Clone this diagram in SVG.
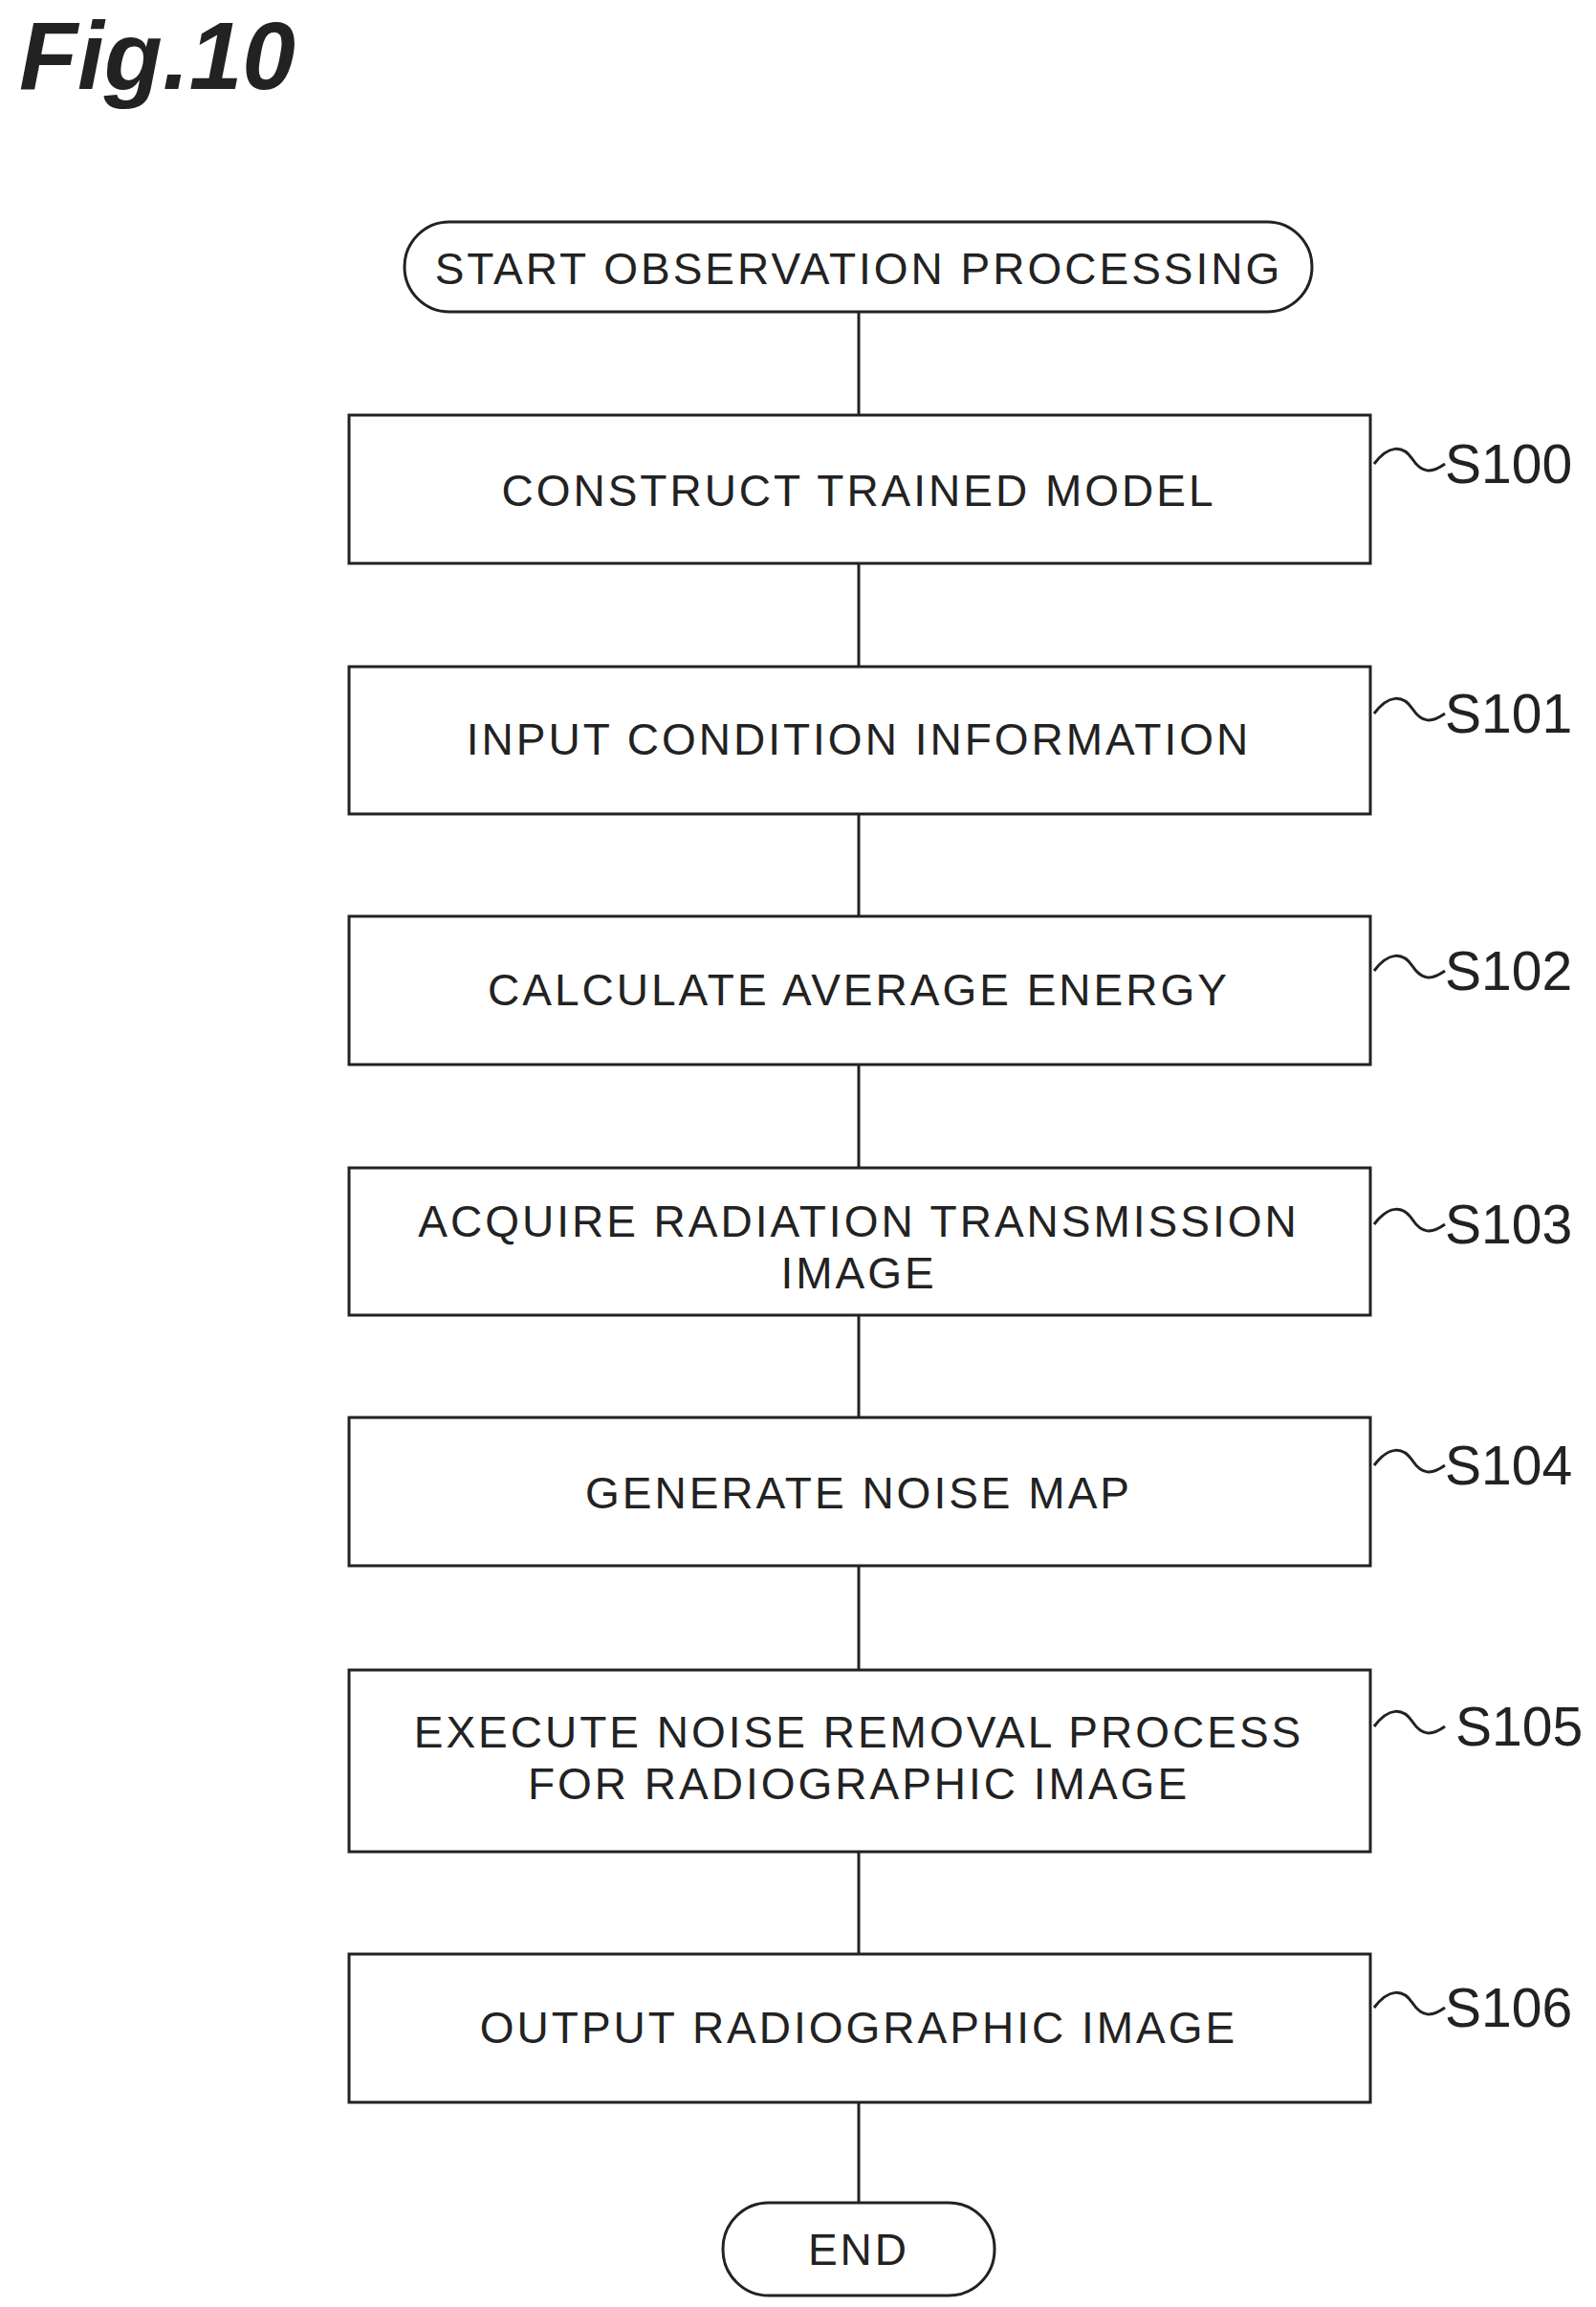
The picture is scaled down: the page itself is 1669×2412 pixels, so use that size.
<svg xmlns="http://www.w3.org/2000/svg" width="1669" height="2412" viewBox="0 0 1669 2412">
<style>
.b{fill:#fff;stroke:#222;stroke-width:3}
.t{font-family:"Liberation Sans",Arial,sans-serif;font-size:46px;fill:#222;text-anchor:middle;dominant-baseline:central;letter-spacing:3px}
.l{font-family:"Liberation Sans",Arial,sans-serif;font-size:57px;fill:#222;dominant-baseline:central}
.c{fill:none;stroke:#222;stroke-width:3}
</style>
<rect width="1669" height="2412" fill="#fff"/>
<text x="20" y="93" font-family="Liberation Sans,Arial,sans-serif" font-size="100" font-weight="bold" font-style="italic" fill="#222">Fig.10</text>
<g id="connectors" class="c">
<path d="M898 326V434M898 589V697M898 851V958M898 1113V1221M898 1375V1482M898 1637V1746M898 1936V2043M898 2198V2303"/>
<path d="M1437 485c15 -20 30 -20 40 -5s20 15 34 5"/>
<path d="M1437 746c15 -20 30 -20 40 -5s20 15 34 5"/>
<path d="M1437 1015c15 -20 30 -20 40 -5s20 15 34 5"/>
<path d="M1437 1280c15 -20 30 -20 40 -5s20 15 34 5"/>
<path d="M1437 1532c15 -20 30 -20 40 -5s20 15 34 5"/>
<path d="M1437 1805c15 -20 30 -20 40 -5s20 15 34 5"/>
<path d="M1437 2099c15 -20 30 -20 40 -5s20 15 34 5"/>
</g>
<g id="start"><rect class="b" x="423" y="232" width="949" height="94" rx="47"/><text class="t" x="898" y="281">START OBSERVATION PROCESSING</text></g>
<g id="s100"><rect class="b" x="365" y="434" width="1068" height="155"/><text class="t" x="898" y="513">CONSTRUCT TRAINED MODEL</text><text class="l" x="1511" y="485">S100</text></g>
<g id="s101"><rect class="b" x="365" y="697" width="1068" height="154"/><text class="t" x="898" y="773">INPUT CONDITION INFORMATION</text><text class="l" x="1511" y="746">S101</text></g>
<g id="s102"><rect class="b" x="365" y="958" width="1068" height="155"/><text class="t" x="898" y="1035">CALCULATE AVERAGE ENERGY</text><text class="l" x="1511" y="1015">S102</text></g>
<g id="s103"><rect class="b" x="365" y="1221" width="1068" height="154"/><text class="t" x="898" y="1277">ACQUIRE RADIATION TRANSMISSION</text><text class="t" x="898" y="1331">IMAGE</text><text class="l" x="1511" y="1280">S103</text></g>
<g id="s104"><rect class="b" x="365" y="1482" width="1068" height="155"/><text class="t" x="898" y="1561">GENERATE NOISE MAP</text><text class="l" x="1511" y="1532">S104</text></g>
<g id="s105"><rect class="b" x="365" y="1746" width="1068" height="190"/><text class="t" x="898" y="1811">EXECUTE NOISE REMOVAL PROCESS</text><text class="t" x="898" y="1865">FOR RADIOGRAPHIC IMAGE</text><text class="l" x="1522" y="1805">S105</text></g>
<g id="s106"><rect class="b" x="365" y="2043" width="1068" height="155"/><text class="t" x="898" y="2120">OUTPUT RADIOGRAPHIC IMAGE</text><text class="l" x="1511" y="2099">S106</text></g>
<g id="end"><rect class="b" x="756" y="2303" width="284" height="97" rx="48"/><text class="t" x="898" y="2352">END</text></g>
</svg>
